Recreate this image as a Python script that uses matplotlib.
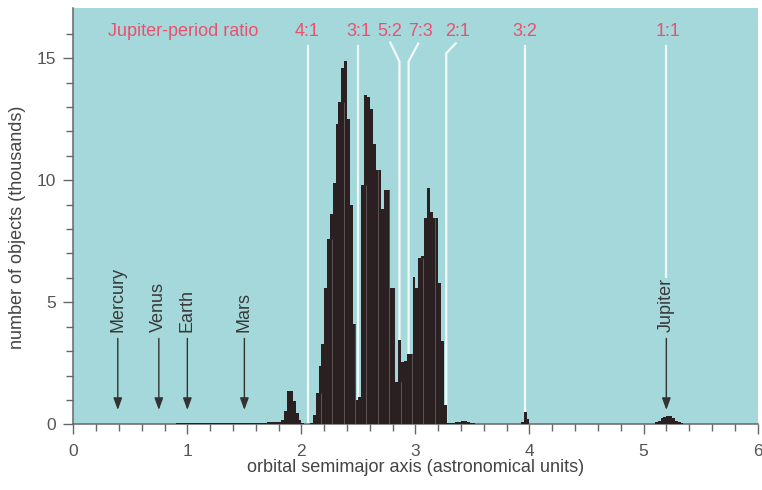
import numpy as np
import matplotlib
matplotlib.use("Agg")
import matplotlib.pyplot as plt

plt.rcParams['font.family'] = ['Liberation Sans', 'DejaVu Sans']

# main belt histogram, bins of 0.025 AU starting at 1.80 AU (thousands of objects)
main_start = 1.80
bin_w = 0.025
main_counts = [0.10, 0.18, 0.55, 1.38, 1.38, 0.95, 0.45, 0.18, 0.06, 0.03,
               0.0, 0.05, 0.40, 1.30, 2.40, 3.30, 5.60, 7.60, 8.60, 9.90,
               12.3, 13.2, 14.6, 14.9, 12.5, 9.00, 4.10, 1.00, 1.10, 9.80,
               13.5, 13.4, 12.9, 11.5, 10.4, 10.4, 8.80, 9.60, 9.60, 5.60,
               5.60, 1.75, 3.45, 2.57, 2.60, 2.90, 2.90, 6.05, 5.57, 6.80,
               6.90, 8.45, 9.67, 8.70, 8.45, 8.45, 5.80, 3.40, 0.80, 0.06,
               0.05, 0.06, 0.08, 0.10, 0.12, 0.12, 0.10, 0.07, 0.04, 0.02]

# inner sparse tail, 0.1 AU bins from 0.8 AU
tail_start = 0.80
tail_w = 0.1
tail_counts = [0.03, 0.04, 0.04, 0.05, 0.05, 0.06, 0.06, 0.07, 0.07, 0.08]

# Hildas (3:2) and Trojans (1:1), 0.025 AU bins
hilda_start = 3.925
hilda_counts = [0.08, 0.52, 0.20]
trojan_start = 5.075
trojan_counts = [0.03, 0.08, 0.15, 0.25, 0.32, 0.35, 0.33, 0.25, 0.15, 0.08, 0.04]

# resonances
res_labels = ['4:1', '3:1', '5:2', '7:3', '2:1', '3:2', '1:1']
res_gap = [2.06, 2.50, 2.86, 2.94, 3.27, 3.96, 5.20]
res_label_x = [2.05, 2.503, 2.772, 3.044, 3.371, 3.957, 5.212]

planets = ['Mercury', 'Venus', 'Earth', 'Mars', 'Jupiter']
planet_a = [0.39, 0.75, 1.0, 1.5, 5.2]

teal = '#a4d8da'
dark = '#2a2021'
red = '#ef4f6f'
grey = '#555555'

fig = plt.figure(figsize=(7.62, 4.9), dpi=100)
ax = fig.add_axes([0.0962, 0.134, 0.898, 0.850])
ax.set_facecolor(teal)


def draw_hist(start, width, counts):
    edges = start + width * np.arange(len(counts) + 1)
    ax.stairs(counts, edges, fill=True, color=dark, linewidth=0, zorder=3)
    return edges


draw_hist(main_start, bin_w, main_counts)
draw_hist(tail_start, tail_w, tail_counts)
draw_hist(hilda_start, bin_w, hilda_counts)
draw_hist(trojan_start, bin_w, trojan_counts)

# faint separators inside the dark bars
mc = np.array(main_counts)
for xs in np.arange(2.17, 3.25, 0.1):
    i = int((xs - main_start) / bin_w)
    h = min(mc[i], mc[max(i - 1, 0)])
    ax.vlines(xs, 0, h, color='#5e5456', lw=0.7, zorder=4)

# white resonance lines (behind bars)
lc = dict(color='white', lw=1.6, alpha=0.85, zorder=2, solid_capstyle='butt')
top = 15.55
bend_y = 14.86
for lab, g, lx in zip(res_labels, res_gap, res_label_x):
    if lab == '5:2':
        ax.plot([g, g, 2.775], [0, bend_y, 15.68], **lc)
    elif lab == '7:3':
        ax.plot([g, g, 3.029], [0, bend_y, 15.64], **lc)
    elif lab == '2:1':
        ax.plot([g, g, 3.36], [0, 15.2, 15.64], **lc)
    elif lab == '1:1':
        ax.plot([g, g], [6.0, top], **lc)
    else:
        ax.plot([g, g], [0, top], **lc)
    ax.text(lx, 16.09, lab, color=red, fontsize=13, ha='center', va='center')

ax.text(0.965, 16.09, 'Jupiter-period ratio', color=red, fontsize=13,
        ha='center', va='center')

# planet markers
for name, a in zip(planets, planet_a):
    ax.text(a, 3.8, name, rotation=90, ha='center', va='bottom',
            fontsize=13, color='#3a3a3a', zorder=5)
    ax.annotate('', xy=(a, 0.59), xytext=(a, 3.52),
                arrowprops=dict(arrowstyle='-|>,head_length=0.6,head_width=0.22',
                                color='#333333', lw=1.0, shrinkA=0, shrinkB=0,
                                mutation_scale=12),
                zorder=5)

ax.set_xlim(0, 6)
ax.set_ylim(0, 17.06)
ax.set_xticks(range(0, 7))
ax.set_xticks(np.arange(0, 6.01, 0.2), minor=True)
ax.set_yticks([0, 5, 10, 15])
ax.set_yticks(range(0, 17), minor=True)

for s in ['top', 'right']:
    ax.spines[s].set_visible(False)
for s in ['left', 'bottom']:
    ax.spines[s].set_color('#666666')
    ax.spines[s].set_linewidth(1.1)

ax.tick_params(which='major', direction='out', length=7.2, width=1,
               color='#666666', labelsize=12.5, labelcolor=grey)
ax.tick_params(axis='x', which='major', pad=7)
ax.tick_params(axis='y', which='major', pad=5)
ax.tick_params(which='minor', direction='out', length=5, width=1,
               color='#666666')

ax.set_xlabel('orbital semimajor axis (astronomical units)', fontsize=13,
              color='#444444')
ax.set_ylabel('number of objects (thousands)', fontsize=13, color='#444444')
ax.xaxis.set_label_coords(0.5, -0.083)
ax.yaxis.set_label_coords(-0.069, 0.473)

fig.savefig('out.png', dpi=100)
